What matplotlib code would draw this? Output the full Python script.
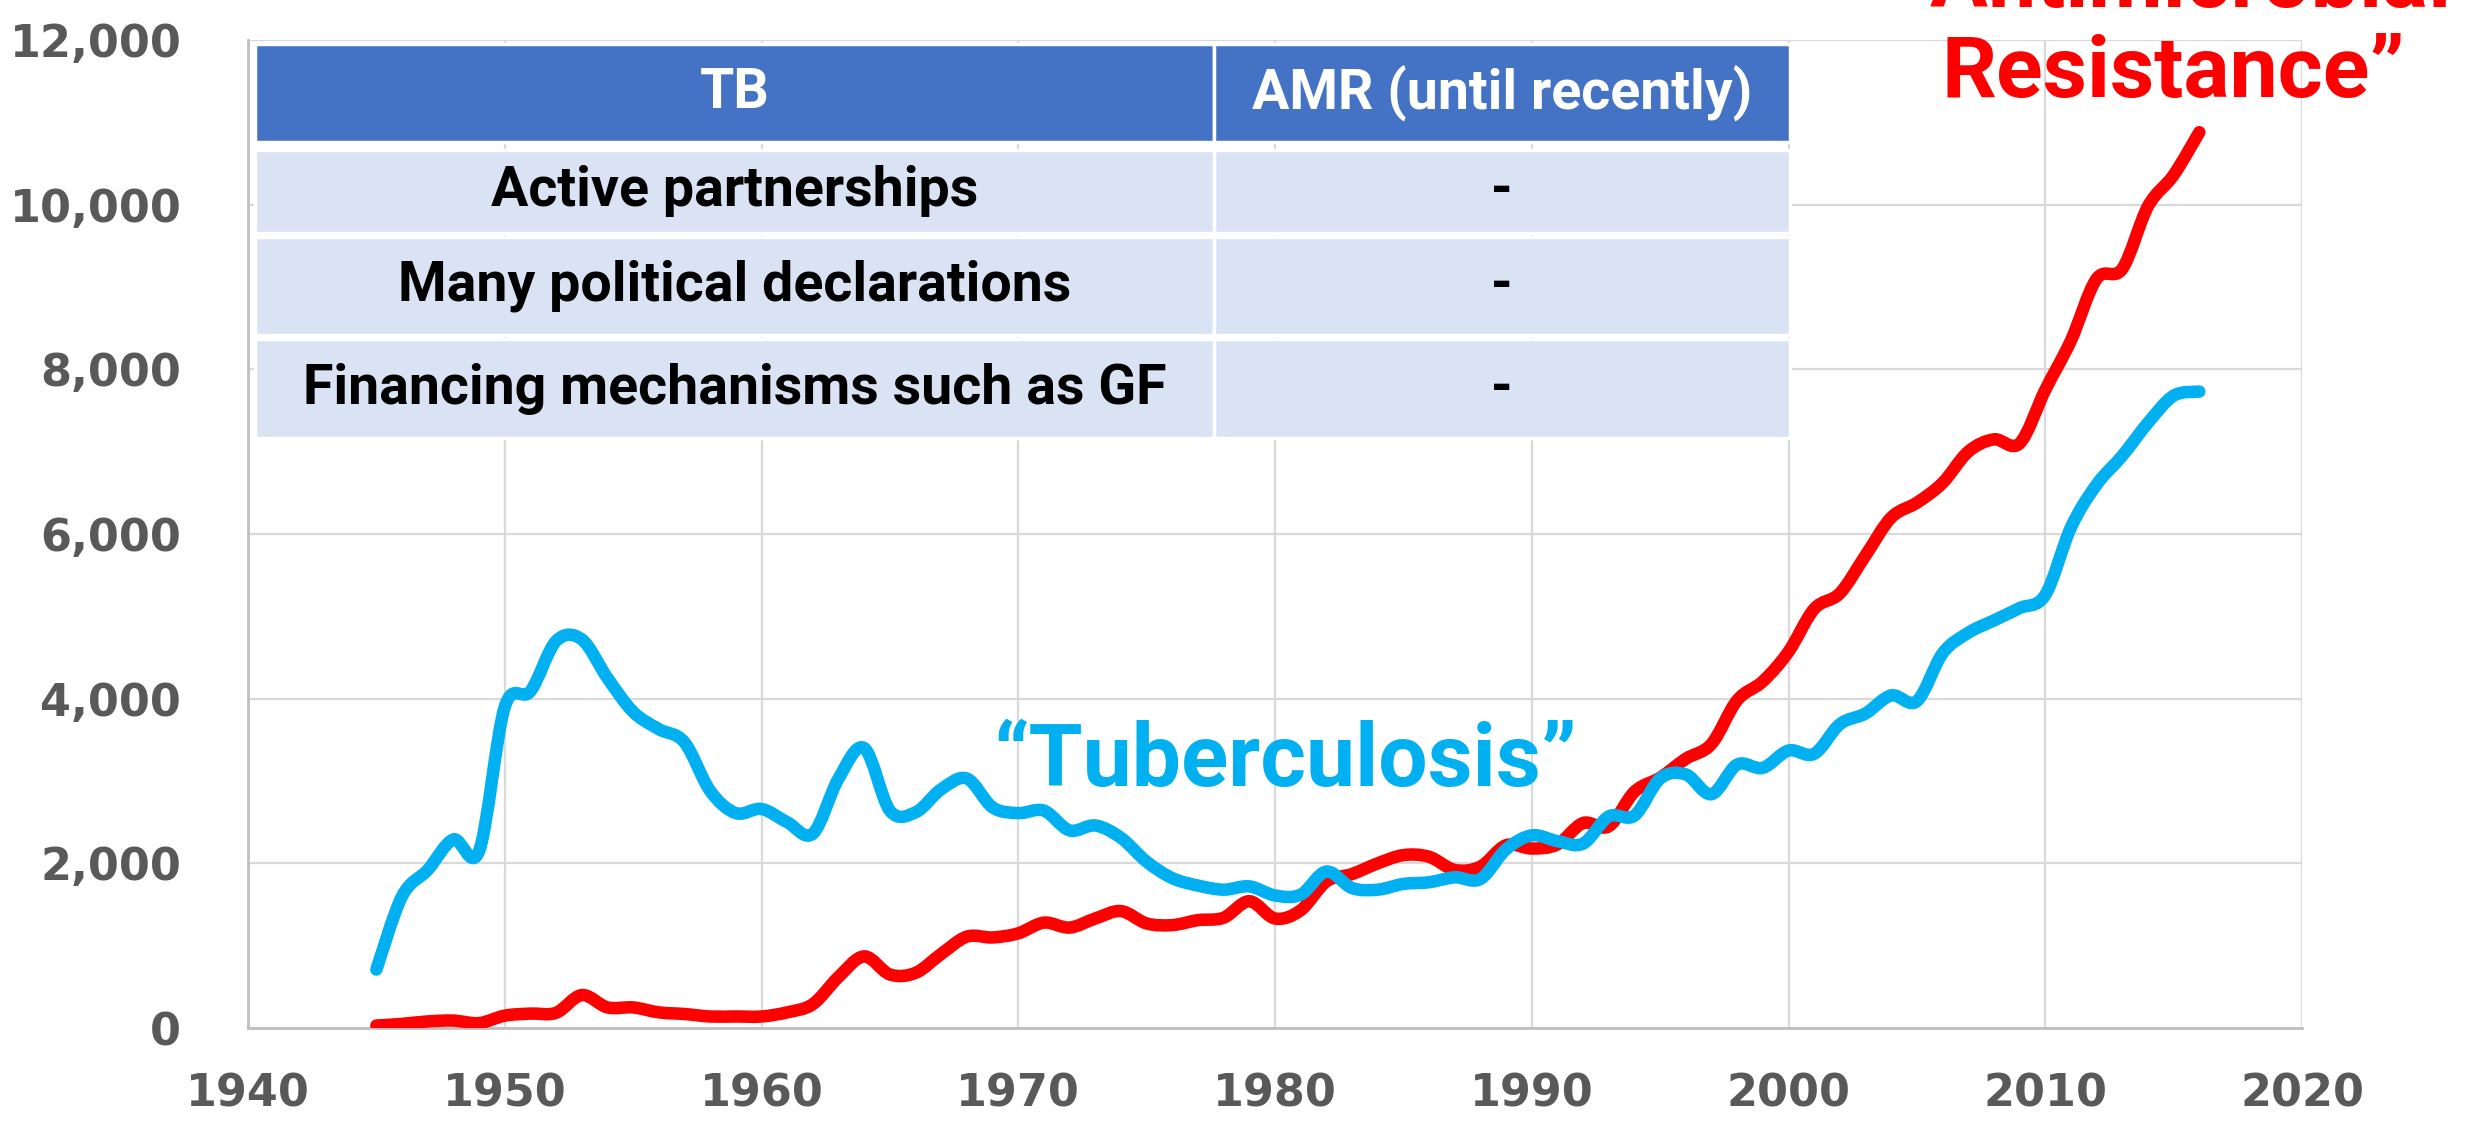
import matplotlib
matplotlib.use("Agg")
import matplotlib.pyplot as plt
from matplotlib.patches import Rectangle, PathPatch
from matplotlib.path import Path
from matplotlib import font_manager

years = list(range(1945, 2017))

tb = [710, 1600, 1920, 2290, 2150, 3900, 4090, 4700, 4720, 4250,
      3840, 3630, 3470, 2880, 2610, 2660, 2500, 2360, 3030, 3400,
      2640, 2620, 2900, 3030, 2680, 2610, 2640, 2400, 2460, 2310,
      2020, 1820, 1730, 1680, 1720, 1610, 1620, 1900, 1700, 1680,
      1750, 1770, 1830, 1810, 2170, 2340, 2270, 2240, 2570, 2580,
      3030, 3080, 2840, 3200, 3160, 3370, 3330, 3690, 3820, 4040,
      3970, 4550, 4800, 4950, 5100, 5260, 6080, 6600, 6950, 7350,
      7680, 7730]

amr = [30, 50, 80, 90, 60, 150, 175, 185, 400, 250,
       250, 190, 170, 140, 140, 140, 190, 290, 620, 870,
       650, 670, 900, 1110, 1100, 1150, 1280, 1220, 1330, 1420,
       1270, 1250, 1310, 1340, 1540, 1330, 1430, 1780, 1870, 2000,
       2100, 2080, 1920, 1960, 2220, 2180, 2230, 2490, 2450, 2870,
       3040, 3270, 3450, 3980, 4210, 4570, 5090, 5280, 5740, 6200,
       6380, 6620, 7000, 7150, 7100, 7750, 8350, 9100, 9220, 9980,
       10360, 10880]

yticks = [0, 2000, 4000, 6000, 8000, 10000, 12000]
xticks = [1940, 1950, 1960, 1970, 1980, 1990, 2000, 2010, 2020]

table_header = ["TB", "AMR (until recently)"]
table_rows = [["Active partnerships", "-"],
              ["Many political declarations", "-"],
              ["Financing mechanisms such as GF", "-"]]

label_tb = "\u201cTuberculosis\u201d"
label_amr = ["\u201cAntimicrobial", "Resistance\u201d"]

RED = "#FF0000"
CYAN = "#00B0F0"
GRAY_TXT = "#595959"

def has_bold(fam):
    try:
        p = font_manager.findfont(font_manager.FontProperties(family=fam, weight="bold"),
                                  fallback_to_default=False)
        return "bold" in p.lower()
    except Exception:
        return False

LABEL_FONT = "DejaVu Sans"
for cand in ["Roboto", "Open Sans", "Lato", "Noto Sans", "Liberation Sans"]:
    if has_bold(cand):
        LABEL_FONT = cand
        break

W, H = 2473, 1121
fig = plt.figure(figsize=(W / 100, H / 100), dpi=100)
ax = fig.add_axes([248 / W, (H - 1028) / H, 2054 / W, 988 / H])

ax.set_xlim(1940, 2020)
ax.set_ylim(0, 12000)
ax.set_xticks(xticks)
ax.set_yticks(yticks)
ax.set_xticklabels([str(x) for x in xticks])
ax.set_yticklabels([f"{y:,}" for y in yticks])
ax.tick_params(axis="both", length=0, labelsize=32, labelcolor=GRAY_TXT)
ax.tick_params(axis="y", pad=48)
ax.tick_params(axis="x", pad=32)
for lab in ax.get_xticklabels() + ax.get_yticklabels():
    lab.set_fontweight("bold")
    lab.set_family("DejaVu Sans")

ax.grid(True, color="#D9D9D9", linewidth=1.6, zorder=0)
ax.set_axisbelow(True)
for s in ["top", "right"]:
    ax.spines[s].set_visible(False)
for s in ["left", "bottom"]:
    ax.spines[s].set_color("#BFBFBF")
    ax.spines[s].set_linewidth(2)


def smooth_path(xs, ys, t=0.5):
    # Catmull-Rom cubic Bezier through the data points (Excel "smoothed line")
    n = len(xs)
    verts = [(xs[0], ys[0])]
    codes = [Path.MOVETO]
    for i in range(n - 1):
        x0, y0 = (xs[i - 1], ys[i - 1]) if i > 0 else (xs[i], ys[i])
        x1, y1 = xs[i], ys[i]
        x2, y2 = xs[i + 1], ys[i + 1]
        x3, y3 = (xs[i + 2], ys[i + 2]) if i + 2 < n else (xs[i + 1], ys[i + 1])
        c1 = (x1 + (x2 - x0) * t / 3, y1 + (y2 - y0) * t / 3)
        c2 = (x2 - (x3 - x1) * t / 3, y2 - (y3 - y1) * t / 3)
        verts += [c1, c2, (x2, y2)]
        codes += [Path.CURVE4] * 3
    return Path(verts, codes)


for series, col, z in [(amr, RED, 3), (tb, CYAN, 4)]:
    patch = PathPatch(smooth_path(years, series, 0.5), facecolor="none",
                      edgecolor=col, linewidth=9, capstyle="round",
                      joinstyle="round", zorder=z, transform=ax.transData)
    ax.add_patch(patch)

def fx(px):
    return (px - 248) / 2054

def fy(py):
    return (1028 - py) / 988

col_edges = [255, 1214, 1790]
row_edges = [(44, 142), (150, 233), (237, 335), (339, 438)]
for r, (top, bot) in enumerate(row_edges):
    face = "#4472C4" if r == 0 else "#DAE3F3"
    tcolor = "white" if r == 0 else "black"
    texts = table_header if r == 0 else table_rows[r - 1]
    for c in range(2):
        x0, x1 = col_edges[c], col_edges[c + 1]
        ax.add_patch(Rectangle((fx(x0), fy(bot)), fx(x1) - fx(x0), fy(top) - fy(bot),
                               transform=ax.transAxes, facecolor=face,
                               edgecolor="white", linewidth=2.5, zorder=5,
                               clip_on=False))
        ax.text((fx(x0) + fx(x1)) / 2, (fy(top) + fy(bot)) / 2, texts[c],
                transform=ax.transAxes, ha="center", va="center",
                fontsize=40, fontweight="bold", color=tcolor, family=LABEL_FONT,
                zorder=6)

ax.text(1980.4, 3230, label_tb, color=CYAN, fontsize=63, fontweight="bold",
        family=LABEL_FONT, ha="center", va="center", zorder=6)
ax.text(2015.0, 12400, label_amr[0], color=RED, fontsize=62, fontweight="bold",
        family=LABEL_FONT, ha="center", va="baseline", zorder=6, clip_on=False)
ax.text(2015.0, 11310, label_amr[1], color=RED, fontsize=62, fontweight="bold",
        family=LABEL_FONT, ha="center", va="baseline", zorder=6, clip_on=False)

fig.savefig("out.png", dpi=100)
